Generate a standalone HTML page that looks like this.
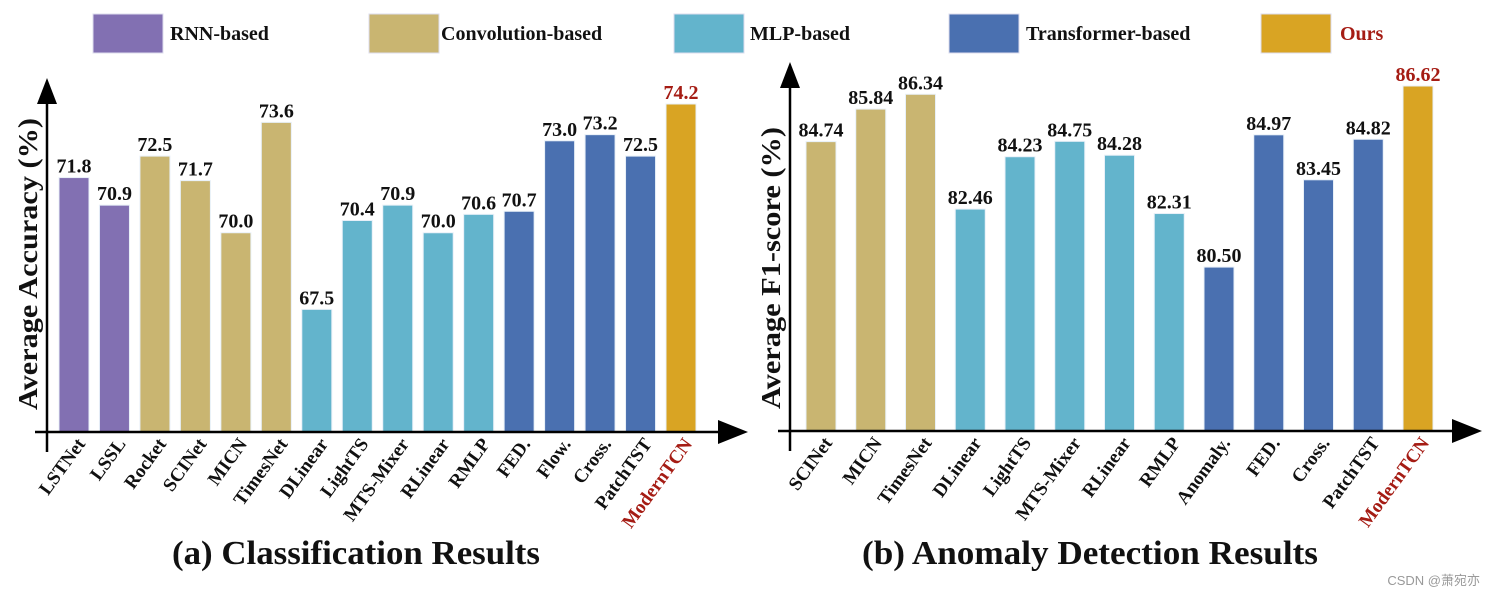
<!DOCTYPE html>
<html><head><meta charset="utf-8"><style>
html,body{margin:0;padding:0;background:#fff;}
svg{display:block;font-family:"Liberation Serif",serif;font-weight:bold;}
</style></head><body>
<svg id="chart" width="1494" height="598" viewBox="0 0 1494 598" xmlns="http://www.w3.org/2000/svg">
<g id="legend"></g>
<g id="chartA"></g>
<g id="chartB"></g>
</svg>
<script>
const NS="http://www.w3.org/2000/svg";
const COLORS={rnn:"#8270b2",conv:"#c9b571",mlp:"#63b4cc",tr:"#4a70b0",ours:"#d9a423"};
const RED="#a51c14";

const legendLabels=["RNN-based","Convolution-based","MLP-based","Transformer-based","Ours"];
const legendKeys=["rnn","conv","mlp","tr","ours"];

const catsA=["LSTNet","LSSL","Rocket","SCINet","MICN","TimesNet","DLinear","LightTS","MTS-Mixer","RLinear","RMLP","FED.","Flow.","Cross.","PatchTST","ModernTCN"];
const valsA=[71.8,70.9,72.5,71.7,70.0,73.6,67.5,70.4,70.9,70.0,70.6,70.7,73.0,73.2,72.5,74.2];
const groupsA=["rnn","rnn","conv","conv","conv","conv","mlp","mlp","mlp","mlp","mlp","tr","tr","tr","tr","ours"];
const labelsA=["71.8","70.9","72.5","71.7","70.0","73.6","67.5","70.4","70.9","70.0","70.6","70.7","73.0","73.2","72.5","74.2"];

const catsB=["SCINet","MICN","TimesNet","DLinear","LightTS","MTS-Mixer","RLinear","RMLP","Anomaly.","FED.","Cross.","PatchTST","ModernTCN"];
const valsB=[84.74,85.84,86.34,82.46,84.23,84.75,84.28,82.31,80.50,84.97,83.45,84.82,86.62];
const groupsB=["conv","conv","conv","mlp","mlp","mlp","mlp","mlp","tr","tr","tr","tr","ours"];
const labelsB=["84.74","85.84","86.34","82.46","84.23","84.75","84.28","82.31","80.50","84.97","83.45","84.82","86.62"];

function mk(parent,tag,attrs,text){const e=document.createElementNS(NS,tag);for(const k in attrs)e.setAttribute(k,attrs[k]);if(text!==undefined)e.textContent=text;parent.appendChild(e);return e;}

const lg=document.getElementById("legend");
const legX=[93,369,674,949,1261];
const legTX=[170,441,750,1026,1340];
legendLabels.forEach((l,i)=>{
  const sw=mk(lg,"rect",{x:legX[i],y:14,width:70,height:39,fill:COLORS[legendKeys[i]],stroke:"#dde","stroke-width":1});
  
  
  const t=mk(lg,"text",{x:legTX[i],y:40,"font-size":20,fill:i==4?RED:"#111"},l);
  
  
});

function drawChart(g,cats,vals,groups,labels,cfg){
  const y=v=>cfg.base-(v-cfg.ymin)/(cfg.ymax-cfg.ymin)*(cfg.base-cfg.ytop);
  const x=i=>cfg.x0+i*(cfg.x1-cfg.x0)/(cats.length-1);
  cats.forEach((c,i)=>{
    const cx=x(i),top=y(vals[i]);
    const r=mk(g,"rect",{x:cx-15,y:top,width:30,height:cfg.base-top,fill:COLORS[groups[i]],stroke:"#e8f0f8","stroke-width":1});
    
    
    const vl=mk(g,"text",{x:cx,y:top-5,"text-anchor":"middle","font-size":20,fill:groups[i]=="ours"?RED:"#111"},labels[i]);
    
    
    const tl=mk(g,"text",{x:cx+12,y:cfg.base+12,"text-anchor":"end","font-size":19,fill:groups[i]=="ours"?RED:"#111",transform:`rotate(-54 ${cx+12} ${cfg.base+12})`},c);
    
    
  });
  const ya=mk(g,"line",{x1:cfg.ax,y1:cfg.base+20,x2:cfg.ax,y2:cfg.arrowTop+20,stroke:"#000","stroke-width":2.5});
  
  
  mk(g,"polygon",{points:`${cfg.ax-10},${cfg.arrowTop+26} ${cfg.ax+10},${cfg.arrowTop+26} ${cfg.ax},${cfg.arrowTop}`,fill:"#000"});
  const xa=mk(g,"line",{x1:cfg.ax-12,y1:cfg.base,x2:cfg.arrowRight-20,y2:cfg.base,stroke:"#000","stroke-width":2.5});
  
  
  mk(g,"polygon",{points:`${cfg.arrowRight-30},${cfg.base-12} ${cfg.arrowRight-30},${cfg.base+12} ${cfg.arrowRight},${cfg.base}`,fill:"#000"});
  const yt=mk(g,"text",{x:cfg.ylx,y:cfg.yly,"text-anchor":"middle","font-size":27,fill:"#111",textLength:cfg.ylen,lengthAdjust:"spacingAndGlyphs",transform:`rotate(-90 ${cfg.ylx} ${cfg.yly})`},cfg.ytitle);
  
  
  const tt=mk(g,"text",{x:cfg.tx,y:564,"text-anchor":"middle","font-size":34,fill:"#111",textLength:cfg.tlen,lengthAdjust:"spacingAndGlyphs"},cfg.title);
  
  
}
drawChart(document.getElementById("chartA"),catsA,valsA,groupsA,labelsA,
 {base:432,ytop:104,ymin:63.5,ymax:74.2,x0:74,x1:681,ax:47,arrowTop:78,arrowRight:748,ylx:37,yly:264,ylen:292,ytitle:"Average Accuracy (%)",tx:356,tlen:368,title:"(a) Classification Results"});
drawChart(document.getElementById("chartB"),catsB,valsB,groupsB,labelsB,
 {base:431,ytop:86,ymin:74.96,ymax:86.62,x0:821,x1:1418,ax:790,arrowTop:62,arrowRight:1482,ylx:780,yly:268,ylen:282,ytitle:"Average  F1-score (%)",tx:1090,tlen:456,title:"(b) Anomaly Detection Results"});
const wm=mk(document.getElementById("chart"),"text",{x:1480,y:585,"text-anchor":"end","font-size":13,"font-weight":"normal",fill:"#999","font-family":"Liberation Sans, Noto Sans CJK SC, sans-serif"},"CSDN @萧宛亦");


</script>
</body></html>
